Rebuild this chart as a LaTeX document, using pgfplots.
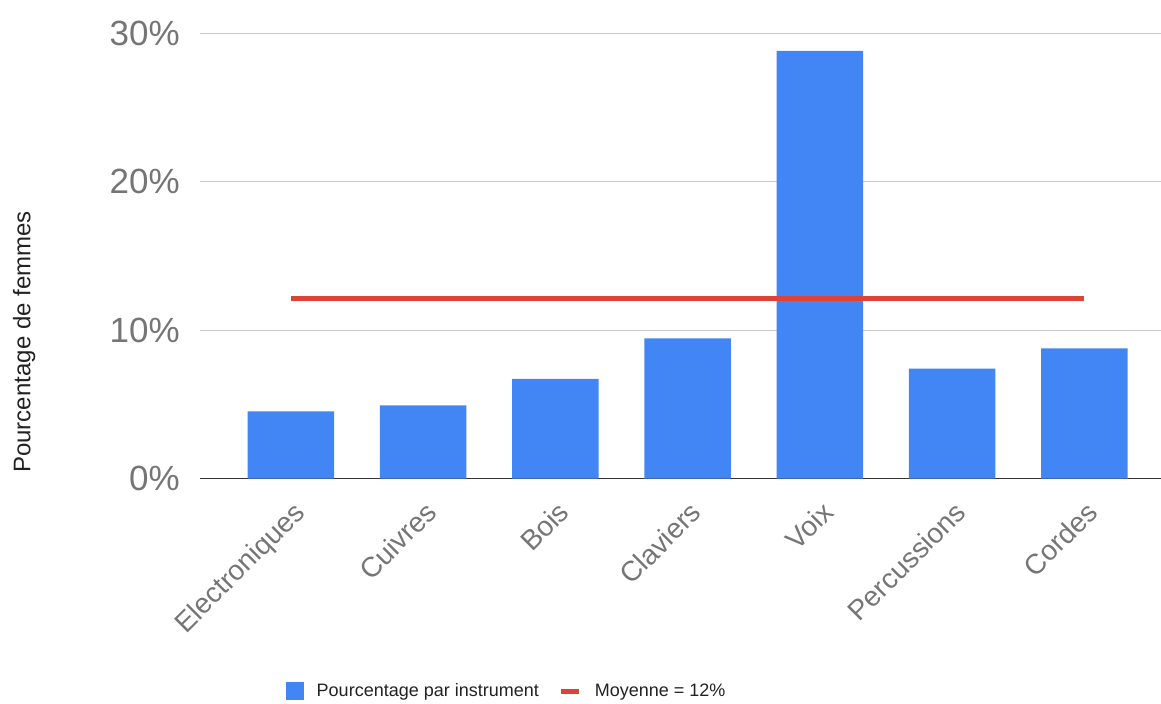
\documentclass[border=0pt]{standalone}
\usepackage{fontspec}
\setmainfont{Liberation Sans}
\usepackage{pgfplots}
\pgfplotsset{compat=1.18}
\definecolor{barblue}{HTML}{4285F4}
\definecolor{avgred}{HTML}{DB4437}
\definecolor{gridgray}{HTML}{CCCCCC}
\definecolor{labgray}{HTML}{757575}
\definecolor{axdark}{HTML}{333333}
\definecolor{txt}{HTML}{222222}
\begin{document}
\begin{tikzpicture}
\useasboundingbox (0,0) rectangle (1161bp,704bp);
\begin{axis}[
  at={(200bp,225.3bp)}, anchor=south west,
  scale only axis, width=961bp, height=445.4bp,
  xmin=-0.688, xmax=6.58, ymin=0, ymax=30,
  axis x line=bottom, axis y line=left,
  x axis line style={-, draw=axdark, line width=1.5bp},
  y axis line style={draw=none},
  major tick length=0pt,
  ytick={0,10,20,30},
  ymajorgrids, grid style={gridgray, line width=1.3bp},
  yticklabel={\pgfmathprintnumber{\tick}\%},
  /pgf/number format/assume math mode=true,
  yticklabel style={font=\fontsize{35bp}{40bp}\selectfont, text=labgray, anchor=east, inner sep=0pt, xshift=-20bp},
  xtick={0,1,2,3,4,5,6},
  xticklabels={Electroniques,Cuivres,Bois,Claviers,Voix,Percussions,Cordes},
  xticklabel style={font=\fontsize{28bp}{32bp}\selectfont, text=labgray, rotate=45, anchor=north east, inner sep=0pt, yshift=-15.5bp, xshift=-14.3bp},
  ylabel={Pourcentage de femmes},
  ylabel style={at={(axis description cs:-0.183,0.307)}, anchor=center, font=\fontsize{24bp}{28bp}\selectfont, text=txt},
  legend columns=2,
  legend style={at={(axis description cs:0.318,-0.4767)}, anchor=center, draw=none, fill=none,
    font=\fontsize{18bp}{22bp}\selectfont, text=txt, inner sep=0pt,
    nodes={inner sep=0pt},
    /tikz/every odd column/.append style={column sep=13bp},
    /tikz/every even column/.append style={column sep=20bp}},
  clip=false,
]
\addplot[ybar, bar width=86.5bp, fill=barblue, draw=none,
  legend image code/.code={\fill[barblue] (0bp,-9bp) rectangle (18bp,9bp);}]
  coordinates {(0,4.53) (1,4.94) (2,6.73) (3,9.45) (4,28.82) (5,7.41) (6,8.78)};
\addlegendentry{Pourcentage par instrument}
\addplot[avgred, line width=4.5bp,
  legend image code/.code={\draw[avgred, line width=5bp] (0bp,0bp) -- (18bp,0bp);}]
  coordinates {(0,12.15) (6,12.15)};
\addlegendentry{Moyenne = 12\%}
\end{axis}
\end{tikzpicture}
\end{document}
